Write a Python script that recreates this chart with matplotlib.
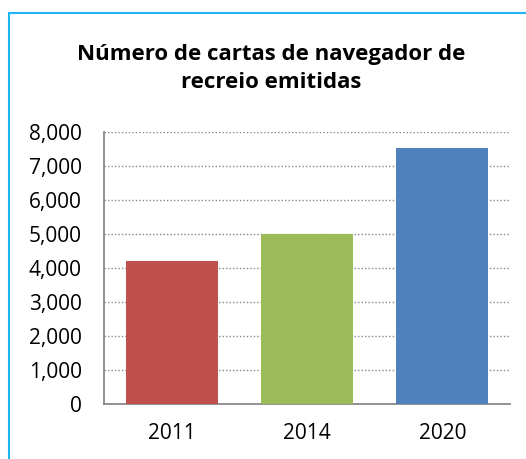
import matplotlib.pyplot as plt
from matplotlib.patches import Rectangle
from matplotlib.ticker import FuncFormatter

years = ["2011", "2014", "2020"]
cartas = [4200, 5000, 7530]
bar_colors = ["#C0504D", "#9BBB59", "#4F81BD"]
title_lines = ["Número de cartas de navegador de", "recreio emitidas"]

plt.rcParams['font.family'] = ['Open Sans', 'DejaVu Sans']

fig = plt.figure(figsize=(5.26, 4.59), dpi=100)

# light blue frame around the chart area (right/bottom run off the image)
fig.patches.append(Rectangle((9 / 526, -0.05), 1.2, 1 - 13 / 459 + 0.05,
                             transform=fig.transFigure, fill=False,
                             edgecolor="#1EB4F0", linewidth=1.5))

ax = fig.add_axes([104 / 526, 55 / 459, 406 / 526, 272 / 459])
ax.bar(years, cartas, width=0.68, color=bar_colors, zorder=3)

ax.set_ylim(0, 8000)
ax.set_xlim(-0.5, 2.5)
ax.set_yticks(range(0, 8001, 1000))
ax.yaxis.set_major_formatter(FuncFormatter(lambda v, p: f"{int(v):,}"))
ax.grid(axis="y", linestyle=(0, (1, 1.5)), color="#868686", linewidth=1, zorder=0)

for s in ["top", "right"]:
    ax.spines[s].set_visible(False)
for s in ["left", "bottom"]:
    ax.spines[s].set_color("#898989")
    ax.spines[s].set_linewidth(1.3)

ax.tick_params(axis="y", length=0, pad=16, labelsize=15)
ax.tick_params(axis="x", length=0, pad=14, labelsize=15)

# two title lines placed by baseline
for line, base in zip(title_lines, [60, 88]):
    fig.text(271 / 526, 1 - base / 459, line, ha="center", va="baseline",
             fontsize=16, fontweight="bold")

fig.savefig("out.png", dpi=100)
